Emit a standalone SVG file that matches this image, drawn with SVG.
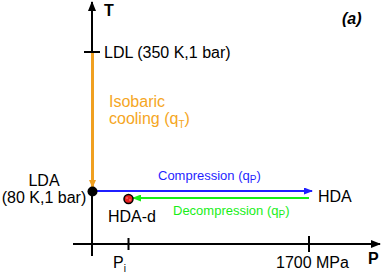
<svg xmlns="http://www.w3.org/2000/svg" width="382" height="275" viewBox="0 0 382 275">
<style>
text{font-family:"Liberation Sans",Arial,sans-serif;font-size:16px;fill:#000}
.b{font-weight:bold}
.orange{fill:#f5a623}
.blue{fill:#1f1fff;font-size:13px}
.green{fill:#18ee18;font-size:13px}
.sub{font-size:10px}
.ax{stroke:#000;stroke-width:2;fill:none}
</style>
<defs>
<marker id="ahK" markerWidth="10" markerHeight="8" refX="9" refY="4" orient="auto" markerUnits="userSpaceOnUse"><path d="M0,0 L10,4 L0,8 Z" fill="#000"/></marker>
<marker id="ahB" markerWidth="9" markerHeight="7" refX="8" refY="3.5" orient="auto" markerUnits="userSpaceOnUse"><path d="M0,0 L9,3.5 L0,7 Z" fill="#1f1fff"/></marker>
<marker id="ahG" markerWidth="9" markerHeight="7" refX="8" refY="3.5" orient="auto" markerUnits="userSpaceOnUse"><path d="M0,0 L9,3.5 L0,7 Z" fill="#18ee18"/></marker>
<marker id="ahO" markerWidth="7" markerHeight="8" refX="7" refY="3.5" orient="auto" markerUnits="userSpaceOnUse"><path d="M0,0 L8,3.5 L0,7 Z" fill="#f0a020"/></marker>
</defs>
<g id="axes">
<line class="ax" x1="92" y1="256" x2="92" y2="2" marker-end="url(#ahK)"/>
<line class="ax" x1="73" y1="244" x2="380" y2="244" marker-end="url(#ahK)"/>
<line class="ax" x1="84" y1="52" x2="100" y2="52"/>
<line class="ax" x1="128.5" y1="238" x2="128.5" y2="250"/>
<line class="ax" x1="309" y1="236" x2="309" y2="252"/>
<text class="b" x="104" y="16">T</text>
<text class="b" x="368" y="264">P</text>
<text x="113" y="268">P<tspan class="sub" dy="4">i</tspan></text>
<text x="276" y="268">1700 MPa</text>
<text class="b" x="342" y="24" font-style="italic">(a)</text>
</g>
<g id="connectors">
<line x1="92.5" y1="53" x2="92.5" y2="187" stroke="#f0a020" stroke-width="3" marker-end="url(#ahO)"/>
<line x1="97" y1="191" x2="312" y2="191" stroke="#1f1fff" stroke-width="2" marker-end="url(#ahB)"/>
<line x1="309" y1="198" x2="133" y2="198" stroke="#18ee18" stroke-width="2" marker-end="url(#ahG)"/>
<text class="orange" x="109" y="107">Isobaric</text>
<text class="orange" x="109" y="124">cooling (q<tspan class="sub" dy="4">T</tspan><tspan dy="-4">)</tspan></text>
<text class="blue" x="158" y="180">Compression (q<tspan class="sub" font-size="9" dy="3">P</tspan><tspan dy="-3">)</tspan></text>
<text class="green" x="173" y="215">Decompression (q<tspan class="sub" font-size="9" dy="3">P</tspan><tspan dy="-3">)</tspan></text>
</g>
<g id="LDL">
<text x="104" y="58">LDL (350 K,1 bar)</text>
</g>
<g id="LDA">
<circle cx="92.5" cy="191.5" r="5" fill="#000"/>
<text x="44" y="186" text-anchor="middle">LDA</text>
<text x="44" y="203" text-anchor="middle">(80 K,1 bar)</text>
</g>
<g id="HDA">
<text x="318" y="202">HDA</text>
</g>
<g id="HDA-d">
<circle cx="128.5" cy="199" r="4.5" fill="#e82020" stroke="#000" stroke-width="1.5"/>
<circle cx="127" cy="198" r="0.7" fill="#ffb0b0"/>
<circle cx="130" cy="200" r="0.7" fill="#ffb0b0"/>
<text x="108" y="222">HDA-d</text>
</g>
</svg>
